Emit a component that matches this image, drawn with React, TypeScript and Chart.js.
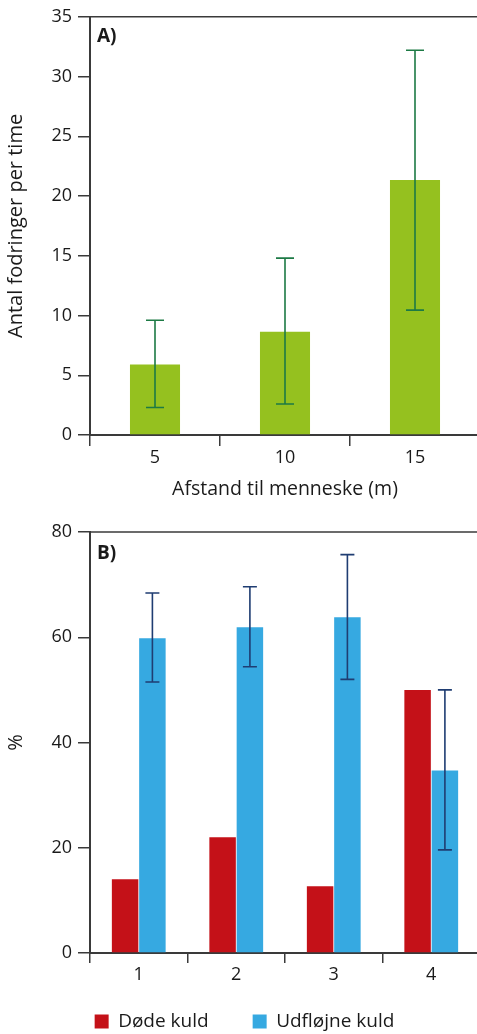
import React, { useEffect, useRef } from 'react';
import { Chart, registerables, CategoryScale } from 'chart.js';

Chart.register(...registerables);

// Category scale whose tick labels are not clipped to the axis box
class UnclippedCategoryScale extends CategoryScale {
  _computeLabelArea() {
    return undefined;
  }
}
(UnclippedCategoryScale as any).id = 'unclippedCategory';
(UnclippedCategoryScale as any).defaults = (CategoryScale as any).defaults;
Chart.register(UnclippedCategoryScale as any);

// ---------- Data ----------
const distanceLabels = ['5', '10', '15'];
const feedingMeans = [5.9, 8.65, 21.35];
const feedingLow = [2.3, 2.6, 10.45];
const feedingHigh = [9.6, 14.8, 32.2];

const broodLabels = ['1', '2', '3', '4'];
const deadBroods = [14, 22, 12.7, 50];
const fledgedBroods = [59.8, 61.9, 63.8, 34.7];
const fledgedLow = [51.5, 54.4, 52.0, 19.6];
const fledgedHigh = [68.4, 69.6, 75.7, 50.0];

const FONT = "'Open Sans', 'Noto Sans', sans-serif";
const TEXT = '#1a1a1a';
const AXIS = '#3a3a3a';
const TICK_SIZE = 18;
const TITLE_SIZE = 20;

const errorBarPlugin = {
  id: 'errorBars',
  afterDatasetsDraw(chart: any, _args: any, opts: any) {
    if (!opts || !opts.sets) return;
    const { ctx } = chart;
    const yScale = chart.scales.y;
    opts.sets.forEach((s: any) => {
      const meta = chart.getDatasetMeta(s.dataset);
      meta.data.forEach((bar: any, j: number) => {
        const x = bar.x;
        const yl = yScale.getPixelForValue(s.low[j]);
        const yh = yScale.getPixelForValue(s.high[j]);
        ctx.save();
        ctx.strokeStyle = s.color;
        ctx.lineWidth = 1.6;
        ctx.beginPath();
        ctx.moveTo(x, yl);
        ctx.lineTo(x, yh);
        ctx.moveTo(x - s.cap / 2, yl);
        ctx.lineTo(x + s.cap / 2, yl);
        ctx.moveTo(x - s.cap / 2, yh);
        ctx.lineTo(x + s.cap / 2, yh);
        ctx.stroke();
        ctx.restore();
      });
    });
  },
};

const framePlugin = {
  id: 'frame',
  afterDraw(chart: any, _args: any, opts: any) {
    const { ctx, chartArea } = chart;
    ctx.save();
    ctx.strokeStyle = AXIS;
    ctx.lineWidth = 1.5;
    ctx.beginPath();
    ctx.moveTo(chartArea.left, chartArea.top);
    ctx.lineTo(chartArea.right, chartArea.top);
    ctx.stroke();
    if (opts && opts.label) {
      ctx.fillStyle = TEXT;
      ctx.font = `bold 19px ${FONT}`;
      ctx.textAlign = 'left';
      ctx.textBaseline = 'middle';
      ctx.fillText(opts.label, chartArea.left + 7, chartArea.top + opts.dy);
    }
    ctx.restore();
  },
};

function yAxis(max: number, step: number, title: string, width: number, titlePad: number) {
  return {
    min: 0,
    max,
    ticks: { stepSize: step, color: TEXT, font: { family: FONT, size: TICK_SIZE }, padding: 6 },
    grid: { drawOnChartArea: false, tickLength: 12, color: AXIS, lineWidth: 1.5 },
    border: { color: AXIS, width: 2 },
    title: { display: true, text: title, color: TEXT, font: { family: FONT, size: TITLE_SIZE }, padding: { top: titlePad, bottom: 0 } },
    afterFit(scale: any) {
      scale.width = width;
    },
  };
}

export default function App() {
  const refA = useRef<HTMLCanvasElement>(null);
  const refB = useRef<HTMLCanvasElement>(null);

  useEffect(() => {
    const chartA = new Chart(refA.current!, {
      type: 'bar',
      data: {
        labels: distanceLabels,
        datasets: [
          {
            label: 'Antal fodringer',
            data: feedingMeans,
            backgroundColor: '#95c11f',
            borderWidth: 0,
            categoryPercentage: 0.385,
            barPercentage: 1,
          },
        ],
      },
      options: {
        responsive: false,
        animation: false,
        devicePixelRatio: 1,
        layout: { padding: { top: 14, right: 10, left: 0, bottom: 0 } },
        plugins: {
          legend: { display: false },
          tooltip: { enabled: false },
          errorBars: { sets: [{ dataset: 0, low: feedingLow, high: feedingHigh, color: '#1d7a45', cap: 18 }] },
          frame: { label: 'A)', dy: 20 },
        } as any,
        scales: {
          x: {
            type: 'unclippedCategory',
            ticks: { color: TEXT, font: { family: FONT, size: TICK_SIZE }, padding: 1 },
            grid: { offset: true, drawOnChartArea: false, tickLength: 11, color: AXIS, lineWidth: 1.5 },
            border: { color: AXIS, width: 2 },
            title: { display: true, text: 'Afstand til menneske (m)', color: TEXT, font: { family: FONT, size: 19.5 }, padding: { top: 0, bottom: 9 } },
            afterFit(scale: any) {
              scale.height = 75;
            },
          } as any,
          y: yAxis(35, 5, 'Antal fodringer per time', 90, 4) as any,
        },
      },
      plugins: [errorBarPlugin, framePlugin],
    });

    const chartB = new Chart(refB.current!, {
      type: 'bar',
      data: {
        labels: broodLabels,
        datasets: [
          {
            label: 'Døde kuld',
            data: deadBroods,
            backgroundColor: '#c41118',
            borderWidth: 0,
            categoryPercentage: 0.56,
            barPercentage: 0.97,
          },
          {
            label: 'Udfløjne kuld',
            data: fledgedBroods,
            backgroundColor: '#36a9e1',
            borderWidth: 0,
            categoryPercentage: 0.56,
            barPercentage: 0.97,
          },
        ],
      },
      options: {
        responsive: false,
        animation: false,
        devicePixelRatio: 1,
        layout: { padding: { top: 22, right: 10, left: 9, bottom: 0 } },
        plugins: {
          legend: {
            display: true,
            position: 'bottom',
            labels: {
              boxWidth: 14,
              boxHeight: 14,
              padding: 44,
              color: TEXT,
              font: { family: FONT, size: 19 },
            },
          },
          tooltip: { enabled: false },
          errorBars: { sets: [{ dataset: 1, low: fledgedLow, high: fledgedHigh, color: '#1f3d72', cap: 14 }] },
          frame: { label: 'B)', dy: 22 },
        } as any,
        scales: {
          x: {
            type: 'unclippedCategory',
            ticks: { color: TEXT, font: { family: FONT, size: TICK_SIZE }, padding: 1 },
            grid: { offset: true, drawOnChartArea: false, tickLength: 10, color: AXIS, lineWidth: 1.5 },
            border: { color: AXIS, width: 2 },
            afterFit(scale: any) {
              scale.height = 15;
            },
          } as any,
          y: yAxis(80, 20, '%', 81, -5) as any,
        },
      },
      plugins: [errorBarPlugin, framePlugin],
    });

    return () => {
      chartA.destroy();
      chartB.destroy();
    };
  }, []);

  return (
    <div style={{ position: 'absolute', left: 0, top: 0, width: 477, height: 1034, overflow: 'hidden', background: '#fff' }}>
      <canvas ref={refA} width={490} height={510} style={{ position: 'absolute', left: 0, top: 0 }} />
      <canvas ref={refB} width={490} height={531} style={{ position: 'absolute', left: 0, top: 510 }} />
    </div>
  );
}
